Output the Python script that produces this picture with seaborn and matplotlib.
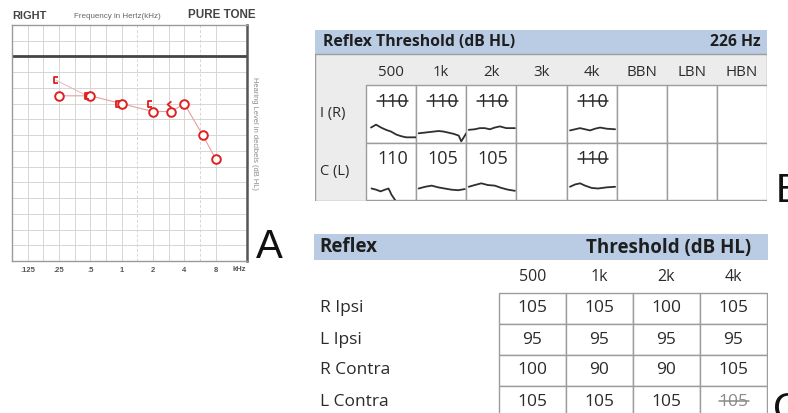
import matplotlib
matplotlib.use("Agg")
import matplotlib.pyplot as plt
from matplotlib.patches import Rectangle
from matplotlib.path import Path
import numpy as np
import seaborn as sns

# ---- A: pure tone audiogram, right ear ----
air_freqs = [0.25, 0.5, 1, 2, 3, 4, 6, 8]
air_db = [25, 25, 30, 35, 35, 30, 50, 65]
bone_freqs = [0.25, 0.5, 1, 2]          # masked bone "["
bone_db = [15, 25, 30, 30]
bone_unmasked_freqs = [3]               # unmasked bone "<"
bone_unmasked_db = [30]
freq_ticks = [0.125, 0.25, 0.5, 1, 2, 4, 8]
freq_labels = [".125", ".25", ".5", "1", "2", "4", "8"]

# ---- B: reflex threshold 226 Hz ----
b_cols = ["500", "1k", "2k", "3k", "4k", "BBN", "LBN", "HBN"]
b_rows = ["I (R)", "C (L)"]
b_values = [[110, 110, 110, None, 110, None, None, None],
            [110, 105, 105, None, 110, None, None, None]]
b_absent = [[True, True, True, False, True, False, False, False],
            [False, False, False, False, True, False, False, False]]
# reflex traces: (x fraction of cell, y fraction of cell)
trace_ir_500 = [(0.1, 0.74), (0.2, 0.69), (0.3, 0.74), (0.4, 0.78), (0.5, 0.81),
                (0.6, 0.86), (0.7, 0.89), (0.8, 0.91), (0.9, 0.91), (1.0, 0.91)]
trace_ir_1k = [(0.05, 0.84), (0.15, 0.83), (0.25, 0.82), (0.35, 0.81), (0.45, 0.80),
               (0.55, 0.81), (0.65, 0.83), (0.75, 0.85), (0.85, 0.88), (0.9, 0.98),
               (0.95, 0.91), (1.0, 0.84)]
trace_ir_2k = [(0.05, 0.78), (0.17, 0.77), (0.27, 0.75), (0.37, 0.75), (0.47, 0.77),
               (0.57, 0.74), (0.67, 0.72), (0.8, 0.75), (0.97, 0.75)]
trace_ir_4k = [(0.07, 0.79), (0.17, 0.77), (0.27, 0.75), (0.37, 0.77), (0.47, 0.79),
               (0.57, 0.76), (0.67, 0.74), (0.8, 0.76), (0.97, 0.77)]
trace_cl_500 = [(0.11, 0.80), (0.2, 0.82), (0.29, 0.85), (0.38, 0.82), (0.45, 0.80),
                (0.51, 0.91), (0.58, 1.0)]
trace_cl_1k = [(0.05, 0.80), (0.18, 0.77), (0.31, 0.75), (0.44, 0.78), (0.57, 0.80),
               (0.7, 0.82), (0.84, 0.83), (0.97, 0.81)]
trace_cl_2k = [(0.05, 0.77), (0.17, 0.74), (0.3, 0.71), (0.43, 0.74), (0.57, 0.75),
               (0.7, 0.79), (0.83, 0.82), (0.97, 0.84)]
trace_cl_4k = [(0.07, 0.77), (0.17, 0.73), (0.27, 0.71), (0.37, 0.75), (0.5, 0.79),
               (0.63, 0.80), (0.8, 0.78), (0.97, 0.77)]
b_traces = {(0, 0): trace_ir_500, (0, 1): trace_ir_1k, (0, 2): trace_ir_2k, (0, 4): trace_ir_4k,
            (1, 0): trace_cl_500, (1, 1): trace_cl_1k, (1, 2): trace_cl_2k, (1, 4): trace_cl_4k}

# ---- C: reflex thresholds ----
c_cols = ["500", "1k", "2k", "4k"]
c_rows = ["R Ipsi", "L Ipsi", "R Contra", "L Contra"]
c_values = [[105, 105, 100, 105],
            [95, 95, 95, 95],
            [100, 90, 90, 105],
            [105, 105, 105, 105]]
c_absent = [[False] * 4, [False] * 4, [False] * 4, [False, False, False, True]]

sns.set_style("white")
plt.rcParams["font.family"] = ["Open Sans", "DejaVu Sans"]

W, H = 788, 413
fig = plt.figure(figsize=(W / 100, H / 100), dpi=100)


def px_axes(x0, y0, x1, y1):
    return fig.add_axes([x0 / W, 1 - y1 / H, (x1 - x0) / W, (y1 - y0) / H])


red = "#e01f1f"
arial = ["Liberation Sans", "DejaVu Sans"]
bracket = Path([(0.55, 1), (-0.55, 1), (-0.55, -1), (0.55, -1)])
chevron = Path([(0.6, 1), (-0.6, 0), (0.6, -1)])

# ================= A =================
ax = px_axes(12, 25, 247, 261)
ax.set_xscale("log", base=2)
lo = 0.125 / np.sqrt(2)
ax.set_xlim(lo, 16)
ax.set_ylim(130, -20)
for k in range(1, 14):
    f = lo * 2 ** (k / 2)
    dashed = abs(np.log2(f) - 0.5) < 0.01 or abs(np.log2(f) - 2.5) < 0.01
    ax.axvline(f, color="#d6d6d6", lw=0.7, ls=(0, (3, 2)) if dashed else "-", zorder=0)
for db in range(-10, 130, 10):
    ax.axhline(db, color="#d6d6d6", lw=0.7, zorder=0)
ax.axhline(0, color="#444444", lw=2.0, zorder=1)
for s in ax.spines.values():
    s.set_color("#9a9a9a")
    s.set_linewidth(1.0)
ax.spines["right"].set_color("#555555")
ax.spines["right"].set_linewidth(1.8)
ax.set_xticks(freq_ticks, freq_labels)
ax.xaxis.set_minor_locator(matplotlib.ticker.NullLocator())
ax.set_yticks([])
ax.tick_params(axis="x", length=0, pad=4, labelsize=5.5, labelcolor="#555555")
for lab in ax.get_xticklabels():
    lab.set_fontweight("bold")
    lab.set_family(arial)
ax.text(13.6, -0.038, "kHz", transform=ax.get_xaxis_transform(), ha="center", va="center",
        fontsize=5.5, fontweight="bold", color="#555555", family=arial)

bone_x = [f * 0.93 for f in bone_freqs]
bone_ux = [f * 0.95 for f in bone_unmasked_freqs]
sns.lineplot(x=bone_x[:2], y=bone_db[:2], ax=ax, color="#dcb0b0", lw=0.6, sort=False,
             estimator=None, zorder=2)
sns.lineplot(x=air_freqs, y=air_db, ax=ax, color="#e6a0a0", lw=0.8, sort=False, estimator=None,
             marker="o", markersize=6.2, markerfacecolor="white", markeredgecolor=red,
             markeredgewidth=1.4, zorder=3)
ax.plot(bone_x, bone_db, ls="none", marker=bracket, ms=4.5, mfc="none", mec=red, mew=1.3,
        zorder=4)
ax.plot(bone_ux, bone_unmasked_db, ls="none", marker=chevron, ms=4.5, mfc="none", mec=red,
        mew=1.3, zorder=4)
ax.set_xlabel("")
ax.set_ylabel("")

fig.text(12 / W, 1 - 16 / H, "RIGHT", fontsize=7.9, fontweight="bold", color="#444444",
         va="center", family=arial)
fig.text(117 / W, 1 - 17 / H, "Frequency in Hertz(kHz)", fontsize=5.8, color="#666666",
         ha="center", va="center", family=arial)
fig.text(256 / W, 1 - 15 / H, "PURE TONE", fontsize=8.4, fontweight="bold", color="#444444",
         ha="right", va="center", family=arial)
fig.text(254 / W, 1 - 133 / H, "Hearing Level in decibels (dB HL)", fontsize=5.4,
         color="#8a8a8a", rotation=270, ha="center", va="center", family=arial)

# ================= B =================
blue = "#bacce4"
grid_c = "#9c9c9c"
txt = "#2a2a2a"
strikes = []

axb = px_axes(315, 30, 767, 201)
axb.set_xlim(0, 452)
axb.set_ylim(171, 0)
axb.axis("off")
axb.add_patch(Rectangle((0, 0), 452, 24, fc=blue, ec="none"))
axb.add_patch(Rectangle((0, 24), 452, 147, fc="#ececec", ec=grid_c, lw=1.0))
axb.text(8, 12.5, "Reflex Threshold (dB HL)", fontsize=11.3, fontweight="bold", color="#1e1e1e",
         va="center")
axb.text(446, 12.5, "226 Hz", fontsize=11.3, fontweight="bold", color="#1e1e1e",
         ha="right", va="center")
lab_w = 51
cell_w = (452 - lab_w) / len(b_cols)
row_top = 55
row_h = 57.5
for j, c in enumerate(b_cols):
    axb.text(lab_w + (j + 0.5) * cell_w, 42, c, fontsize=10.8, color=txt, ha="center", va="center")
for i, r in enumerate(b_rows):
    y0 = row_top + i * row_h
    axb.text(5, y0 + row_h / 2, r, fontsize=10.5, color=txt, va="center")
    for j in range(len(b_cols)):
        x0 = lab_w + j * cell_w
        cell = Rectangle((x0, y0), cell_w, row_h, fc="white", ec=grid_c, lw=1.0)
        axb.add_patch(cell)
        v = b_values[i][j]
        if v is not None:
            t = axb.text(x0 + 0.53 * cell_w, y0 + 0.29 * row_h, str(v), fontsize=13,
                         color=txt, ha="center", va="center")
            if b_absent[i][j]:
                strikes.append((axb, t, txt))
        tr = b_traces.get((i, j))
        if tr:
            xs = [x0 + p[0] * cell_w for p in tr]
            ys = [y0 + p[1] * row_h for p in tr]
            ln, = axb.plot(xs, ys, color="#2f2f2f", lw=1.3, solid_capstyle="round")
            ln.set_clip_path(cell)

# ================= C =================
axc = px_axes(314, 234, 768, 413)
axc.set_xlim(0, 454)
axc.set_ylim(179, 0)
axc.axis("off")
axc.add_patch(Rectangle((0, 0), 454, 26, fc=blue, ec="none"))
axc.text(5, 13.5, "Reflex", fontsize=13.5, fontweight="bold", color="#1e1e1e", va="center")
axc.text(437, 13.5, "Threshold (dB HL)", fontsize=13.5, fontweight="bold", color="#1e1e1e",
         ha="right", va="center")
lab_w_c = 185
cell_w_c = (453 - lab_w_c) / len(c_cols)
row_top_c = 59
row_h_c = 31
for j, c in enumerate(c_cols):
    axc.text(lab_w_c + (j + 0.5) * cell_w_c, 43, c, fontsize=11.5, color=txt,
             ha="center", va="center")
for i, r in enumerate(c_rows):
    y0 = row_top_c + i * row_h_c
    axc.text(6, y0 + row_h_c / 2, r, fontsize=12.5, color=txt, va="center")
    for j in range(len(c_cols)):
        x0 = lab_w_c + j * cell_w_c
        axc.add_patch(Rectangle((x0, y0), cell_w_c, row_h_c, fc="white", ec=grid_c, lw=1.0))
        col = "#8a8a8a" if c_absent[i][j] else txt
        t = axc.text(x0 + cell_w_c / 2, y0 + row_h_c / 2, str(c_values[i][j]), fontsize=12.5,
                     color=col, ha="center", va="center")
        if c_absent[i][j]:
            strikes.append((axc, t, col))

# strike-through for absent reflexes
fig.canvas.draw()
for a, t, col in strikes:
    bb = t.get_window_extent().transformed(a.transData.inverted())
    ymid = (bb.y0 + bb.y1) / 2 - 0.5
    a.plot([bb.x0, bb.x1], [ymid, ymid], color=col, lw=1.1)

# panel letters
fig.text(256 / W, 1 - 258 / H, "A", fontsize=29, va="baseline", color="#111111", family=arial)
fig.text(776 / W, 1 - 202 / H, "B", fontsize=29, va="baseline", color="#111111", family=arial)
fig.text(773 / W, 1 - 421 / H, "C", fontsize=29, va="baseline", color="#111111", family=arial)

fig.savefig("out.png", dpi=100)
